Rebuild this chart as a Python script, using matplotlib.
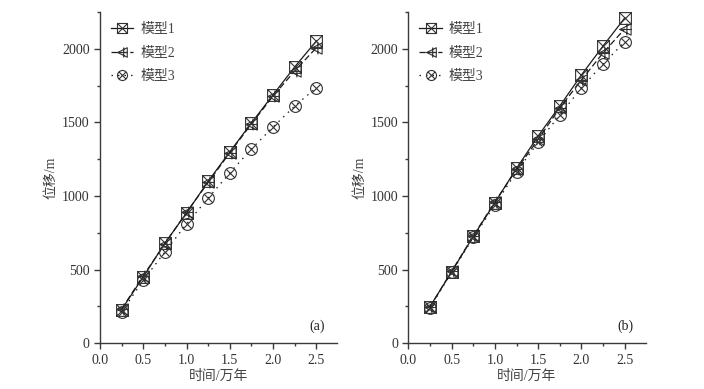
import numpy as np
import matplotlib.pyplot as plt
from matplotlib.path import Path
from matplotlib.ticker import MultipleLocator

# data
t = [0.25, 0.5, 0.75, 1.0, 1.25, 1.5, 1.75, 2.0, 2.25, 2.5]

a_m1 = [228, 450, 680, 884, 1100, 1300, 1497, 1688, 1878, 2054]
a_m2 = [232, 458, 675, 890, 1092, 1295, 1490, 1680, 1850, 2008]
a_m3 = [212, 428, 619, 810, 986, 1157, 1320, 1469, 1612, 1736]

b_m1 = [248, 485, 725, 955, 1188, 1408, 1612, 1823, 2020, 2210]
b_m2 = [245, 488, 728, 960, 1180, 1385, 1599, 1789, 1973, 2136]
b_m3 = [240, 480, 718, 940, 1165, 1365, 1551, 1735, 1898, 2048]

labels = ['模型1', '模型2', '模型3']
panel_tags = ['(a)', '(b)']

# custom hollow markers
sq = Path([(-1, -1), (1, -1), (1, 1), (-1, 1), (-1, -1), (-1, -1), (1, 1), (-1, 1), (1, -1)],
          [Path.MOVETO, Path.LINETO, Path.LINETO, Path.LINETO, Path.CLOSEPOLY,
           Path.MOVETO, Path.LINETO, Path.MOVETO, Path.LINETO])
tri = Path([(-1, 0), (1, 1), (1, -1), (-1, 0), (-1.05, 0), (1.05, 0), (0.25, -1.05), (0.25, 1.05)],
           [Path.MOVETO, Path.LINETO, Path.LINETO, Path.CLOSEPOLY,
            Path.MOVETO, Path.LINETO, Path.MOVETO, Path.LINETO])
d = 0.707
crs = Path([(-d, -d), (d, d), (-d, d), (d, -d)],
           [Path.MOVETO, Path.LINETO, Path.MOVETO, Path.LINETO])
circ = Path.make_compound_path(Path.unit_circle(), crs)

markers = [sq, tri, circ]
styles = ['-', (0, (5, 2.5)), (0, (1.2, 4))]

serif = ['Liberation Serif', 'Noto Sans CJK SC']
plt.rcParams['font.family'] = serif
plt.rcParams['font.size'] = 9
gray = '#3a3a3a'

fig = plt.figure(figsize=(7.04, 3.89), dpi=100)
ax1 = fig.add_axes([0.142, 0.118, 0.337, 0.851])
ax2 = fig.add_axes([0.580, 0.118, 0.337, 0.851])

for ax, data, tag in [(ax1, [a_m1, a_m2, a_m3], panel_tags[0]),
                      (ax2, [b_m1, b_m2, b_m3], panel_tags[1])]:
    for y, m, ls, lab in zip(data, markers, styles, labels):
        ax.plot(t, y, color='#1a1a1a', lw=0.9, ls=ls, marker=m, ms=8.5,
                mfc='none', mec='#333333', mew=0.8, label=lab)
    ax.set_xlim(0, 2.74)
    ax.set_ylim(0, 2250)
    ax.xaxis.set_major_locator(MultipleLocator(0.5))
    ax.xaxis.set_minor_locator(MultipleLocator(0.25))
    ax.yaxis.set_major_locator(MultipleLocator(500))
    ax.yaxis.set_minor_locator(MultipleLocator(250))
    ax.xaxis.set_major_formatter(lambda v, p: f'{v:.1f}')
    ax.spines['top'].set_visible(False)
    ax.spines['right'].set_visible(False)
    for s in ['left', 'bottom']:
        ax.spines[s].set_color(gray)
        ax.spines[s].set_linewidth(1.0)
    ax.tick_params(which='major', direction='out', length=4, width=1.0,
                   color=gray, labelcolor='#333333', labelsize=10)
    ax.tick_params(which='minor', direction='out', length=2.5, width=1.0, color=gray)
    ax.set_xlabel('时间/万年', fontsize=10, color='#444444', labelpad=2)
    ax.set_ylabel('位移/m', fontsize=10, color='#444444', labelpad=3)
    ax.text(0.915, 0.05, tag, transform=ax.transAxes, fontsize=10,
            ha='center', va='center', color='#222222')
    ax.legend(loc='upper left', frameon=False, fontsize=10, handlelength=1.6,
              handletextpad=0.5, labelspacing=0.75, borderaxespad=0.3,
              borderpad=0.5, markerscale=0.85, labelcolor='#444444')

fig.savefig('out.png', dpi=100)
